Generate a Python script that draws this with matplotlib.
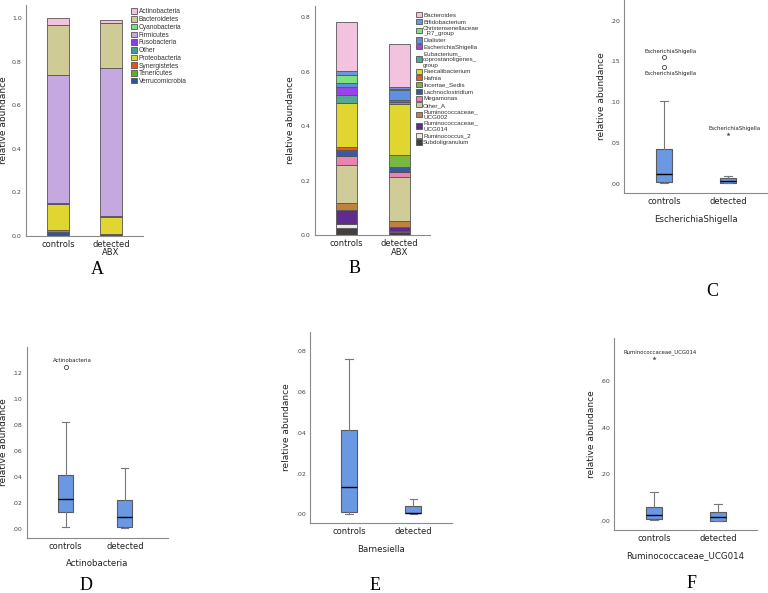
import matplotlib
matplotlib.use("Agg")
import matplotlib.pyplot as plt
from matplotlib.patches import Patch
from matplotlib.ticker import FuncFormatter, MultipleLocator

W, H = 768, 593

GROUPS = ["controls", "detected\nABX"]
BOX_GROUPS = ["controls", "detected"]

# panel A: phyla (legend order, stacked bottom-up in reverse)
PHYLA = ["Actinobacteria", "Bacteroidetes", "Cyanobacteria", "Firmicutes", "Fusobacteria",
         "Other", "Proteobacteria", "Synergistetes", "Tenericutes", "Verrucomicrobia"]
PHYLA_CONTROLS = [0.030, 0.230, 0.004, 0.588, 0.001, 0.003, 0.118, 0.002, 0.006, 0.018]
PHYLA_DETECTED = [0.011, 0.206, 0.003, 0.680, 0.001, 0.005, 0.074, 0.001, 0.003, 0.005]
PHYLA_COLORS = ["#f2c2de", "#cfcb96", "#7ee083", "#c6a8e0", "#8b3de6",
                "#3f9e8f", "#e1d52f", "#e0561e", "#5fae2f", "#3551a3"]

# panel B: genera
GENERA = ["Bacteroides", "Bifidobacterium", "Christensenellaceae\n_R7_group", "Dialister",
          "EscherichiaShigella", "Eubacterium_\ncoprostanoligenes_\ngroup", "Faecalibacterium",
          "Hafnia", "Incertae_Sedis", "Lachnoclostridium", "Megamonas", "Other_A",
          "Ruminococcaceae_\nUCG002", "Ruminococcaceae_\nUCG014", "Ruminococcus_2", "Subdoligranulum"]
GENERA_CONTROLS = [0.182, 0.016, 0.027, 0.016, 0.028, 0.032, 0.161, 0.010,
                   0.005, 0.018, 0.034, 0.137, 0.027, 0.052, 0.014, 0.026]
GENERA_DETECTED = [0.159, 0.007, 0.005, 0.036, 0.007, 0.007, 0.187, 0.001,
                   0.044, 0.020, 0.018, 0.161, 0.022, 0.014, 0.005, 0.010]
GENERA_COLORS = ["#f2c2de", "#6b97e0", "#7fe07f", "#5e8fe0", "#9b42e8", "#52a892", "#e1d52f",
                 "#e0601f", "#79b83f", "#3b58a8", "#e883b2", "#d0cc98", "#bf8040", "#612a8f",
                 "#efe9d8", "#404040"]

# box panels: whisker low, q1, median, q3, whisker high per group
ESCH_LOW = [0.001, 0.0005]
ESCH_Q1 = [0.0025, 0.001]
ESCH_MED = [0.0115, 0.003]
ESCH_Q3 = [0.042, 0.0065]
ESCH_HIGH = [0.101, 0.009]
ESCH_OUT = [(0, 0.155, "o", 1), (0, 0.143, "o", -1), (1, 0.061, "*", 1)]

ACTINO_LOW = [0.002, 0.0008]
ACTINO_Q1 = [0.0133, 0.0015]
ACTINO_MED = [0.023, 0.0092]
ACTINO_Q3 = [0.0416, 0.0222]
ACTINO_HIGH = [0.082, 0.0467]
ACTINO_OUT = [(0, 0.1246, "o", 1)]

BARNES_LOW = [0.0003, 0.0003]
BARNES_Q1 = [0.001, 0.0005]
BARNES_MED = [0.0132, 0.0008]
BARNES_Q3 = [0.0413, 0.0039]
BARNES_HIGH = [0.0759, 0.0077]
BARNES_OUT = []

RUMI_LOW = [0.003, 0.001]
RUMI_Q1 = [0.007, 0.0015]
RUMI_MED = [0.026, 0.0186]
RUMI_Q3 = [0.0616, 0.040]
RUMI_HIGH = [0.125, 0.0716]
RUMI_OUT = [(0, 0.699, "*", 1)]

TEXT = "#222222"
SPINE = "#8a8a8a"

fig = plt.figure(figsize=(W / 100, H / 100), dpi=100)


def px_axes(left, top, right, bottom):
    ax = fig.add_axes([left / W, 1 - bottom / H, (right - left) / W, (bottom - top) / H])
    for s in ("top", "right"):
        ax.spines[s].set_visible(False)
    for s in ("left", "bottom"):
        ax.spines[s].set_color(SPINE)
        ax.spines[s].set_linewidth(0.8)
    ax.tick_params(length=0, labelsize=4.5, labelcolor="#444444", pad=3)
    ax.tick_params(axis="x", labelsize=6, labelcolor=TEXT, pad=3)
    return ax


def ylabel_at(ax, right_px, left, right, text="relative abundance"):
    # rotated ylabel is anchored at its right edge
    ax.set_ylabel(text, fontsize=6.5, color=TEXT)
    ax.yaxis.set_label_coords((right_px - left) / (right - left), 0.5)


def stacked(ax, names, controls, detected, colors, width):
    bottoms = [0.0, 0.0]
    for i in reversed(range(len(names))):
        vals = [controls[i], detected[i]]
        ax.bar([0, 1], vals, width=width, bottom=bottoms, color=colors[i],
               edgecolor="#555555", linewidth=0.6)
        bottoms = [bottoms[0] + vals[0], bottoms[1] + vals[1]]
    ax.set_xticks([0, 1])
    ax.set_xticklabels(GROUPS, linespacing=0.95)


def boxes(ax, low, q1, med, q3, high, outliers, name):
    stats = [dict(whislo=low[i], q1=q1[i], med=med[i], q3=q3[i], whishi=high[i], fliers=[])
             for i in range(2)]
    ax.bxp(stats, positions=[0, 1], widths=0.25, patch_artist=True, showfliers=False,
           boxprops=dict(facecolor="#6a98e3", edgecolor="#5a5a5a", linewidth=0.8),
           medianprops=dict(color="black", linewidth=1.0),
           whiskerprops=dict(color="#777777", linewidth=0.8),
           capprops=dict(color="#777777", linewidth=0.8), capwidths=0.12)
    for g, v, m, side in outliers:
        if m == "o":
            ax.scatter([g], [v], s=9, marker="o", facecolor="white", edgecolor="#444444",
                       linewidth=0.6, zorder=3)
        else:
            ax.scatter([g], [v], s=10, marker="*", color="#444444", linewidth=0, zorder=3)
        ax.annotate(name, (g, v), xytext=(4.5, 4.3 * side), textcoords="offset points",
                    ha="center", va="center", fontsize=3.9, color=TEXT)
    ax.set_xticks([0, 1])
    ax.set_xticklabels(BOX_GROUPS)
    ax.set_xlabel(name, fontsize=6.2, color=TEXT, labelpad=6)
    ax.yaxis.set_major_formatter(FuncFormatter(lambda v, _: f"{v:.2f}".replace("0.", ".", 1)))


# ---- A
ax = px_axes(26, 5, 143, 235.5)
stacked(ax, PHYLA, PHYLA_CONTROLS, PHYLA_DETECTED, PHYLA_COLORS, 0.41)
ax.set_xlim(-0.6, 1.6)
ax.set_ylim(0, 1.06)
ax.yaxis.set_major_locator(MultipleLocator(0.2))
ax.yaxis.set_major_formatter(FuncFormatter(lambda v, _: f"{v:.1f}"))
ylabel_at(ax, 8, 26, 143)
handles = [Patch(facecolor=c, edgecolor="#555555", linewidth=0.6) for c in PHYLA_COLORS]
fig.legend(handles, PHYLA, loc="upper left", bbox_to_anchor=(128 / W, 1 - 5 / H),
           frameon=False, prop={"family": "Liberation Sans", "size": 4.8},
           handlelength=0.9, handleheight=0.9, labelspacing=0.1, borderpad=0,
           handletextpad=0.2, labelcolor="#333333")

# ---- B
ax = px_axes(315, 6, 430, 235)
stacked(ax, GENERA, GENERA_CONTROLS, GENERA_DETECTED, GENERA_COLORS, 0.4)
ax.set_xlim(-0.6, 1.57)
ax.set_ylim(0, 0.842)
ax.yaxis.set_major_locator(MultipleLocator(0.2))
ax.yaxis.set_major_formatter(FuncFormatter(lambda v, _: f"{v:.1f}"))
ylabel_at(ax, 295, 315, 430)
handles = [Patch(facecolor=c, edgecolor="#555555", linewidth=0.6) for c in GENERA_COLORS]
fig.legend(handles, GENERA, loc="upper left", bbox_to_anchor=(413 / W, 1 - 9 / H),
           frameon=False, prop={"family": "Liberation Sans", "size": 4.5},
           handlelength=0.9, handleheight=0.9, labelspacing=0.16, borderpad=0,
           handletextpad=0.2, labelcolor="#333333")

# ---- C
ax = px_axes(624, 0, 767, 193)
boxes(ax, ESCH_LOW, ESCH_Q1, ESCH_MED, ESCH_Q3, ESCH_HIGH, ESCH_OUT, "EscherichiaShigella")
ax.set_xlim(-0.625, 1.61)
ax.set_ylim(-0.0114, 0.2254)
ax.yaxis.set_major_locator(MultipleLocator(0.05))
ylabel_at(ax, 606, 624, 767)

# ---- D
ax = px_axes(26.7, 346.7, 168, 538)
boxes(ax, ACTINO_LOW, ACTINO_Q1, ACTINO_MED, ACTINO_Q3, ACTINO_HIGH, ACTINO_OUT,
      "Actinobacteria")
ax.set_xlim(-0.66, 1.73)
ax.set_ylim(-0.00667, 0.1399)
ax.yaxis.set_major_locator(MultipleLocator(0.02))
ylabel_at(ax, 8.3, 26.7, 168)

# ---- E
ax = px_axes(310, 331.7, 452, 523)
boxes(ax, BARNES_LOW, BARNES_Q1, BARNES_MED, BARNES_Q3, BARNES_HIGH, BARNES_OUT,
      "Barnesiella")
ax.set_xlim(-0.61, 1.60)
ax.set_ylim(-0.00426, 0.0895)
ax.yaxis.set_major_locator(MultipleLocator(0.02))
ylabel_at(ax, 291, 310, 452)

# ---- F
ax = px_axes(614.3, 338, 756.7, 530)
boxes(ax, RUMI_LOW, RUMI_Q1, RUMI_MED, RUMI_Q3, RUMI_HIGH, RUMI_OUT,
      "Ruminococcaceae_UCG014")
ax.set_xlim(-0.62, 1.6)
ax.set_ylim(-0.0387, 0.786)
ax.yaxis.set_major_locator(MultipleLocator(0.2))
ylabel_at(ax, 596, 614.3, 756.7)

# panel letters
for letter, x, y in [("A", 97, 270), ("B", 355, 268), ("C", 712, 292),
                     ("D", 86, 586), ("E", 375, 585.5), ("F", 692, 583)]:
    fig.text(x / W, 1 - y / H, letter, ha="center", va="center", fontsize=13,
             family="Liberation Serif", color="black")

fig.savefig("out.png", dpi=100)
